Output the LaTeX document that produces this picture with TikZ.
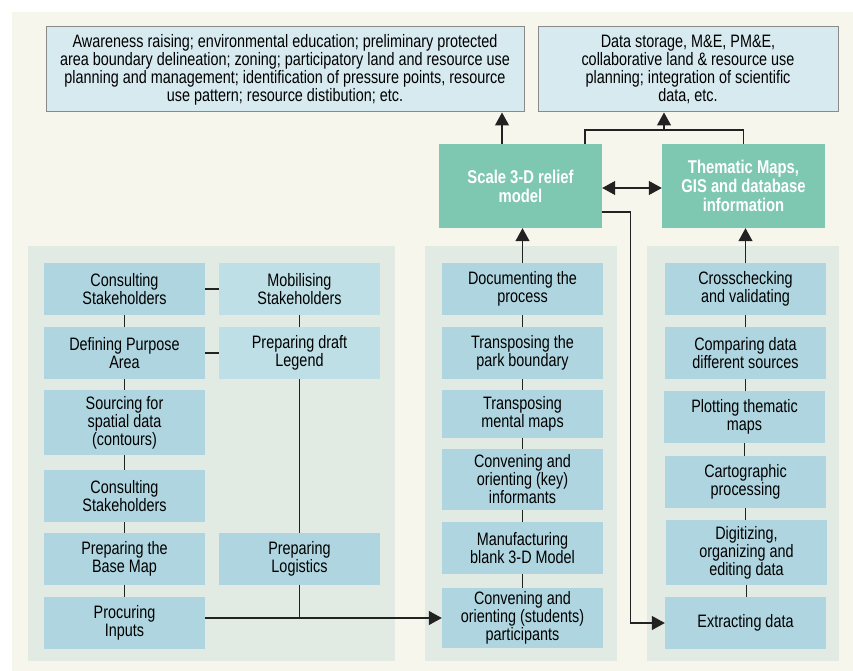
\documentclass[tikz,border=0pt]{standalone}
\usepackage{fontspec}
\setmainfont{Liberation Sans}[FakeStretch=0.80]
\usetikzlibrary{arrows.meta}

\definecolor{cream}{HTML}{F6F6EC}
\definecolor{panelbg}{HTML}{E1EBE3}
\definecolor{stepfill}{HTML}{AFD6E0}
\definecolor{steplight}{HTML}{BEDFE6}
\definecolor{outfill}{HTML}{D6EAF0}
\definecolor{outline}{HTML}{8A8A8A}
\definecolor{teal}{HTML}{7EC7B1}
\definecolor{wire}{HTML}{222222}

\tikzset{
  txt/.style={font=\fontsize{18}{18}\selectfont, align=center, text=black},
  stepbox/.style={txt, fill=stepfill, inner sep=0pt, minimum width=161pt, minimum height=52pt},
  lightbox/.style={stepbox, fill=steplight},
  outbox/.style={txt, fill=outfill, draw=outline, line width=1pt, inner sep=0pt, minimum height=85pt},
  keybox/.style={fill=teal, text=white, align=center, inner sep=0pt,
    font=\fontsize{18.5}{19}\selectfont\bfseries, minimum width=163pt, minimum height=84pt},
  panel/.style={fill=panelbg, draw=none},
  link/.style={draw=wire, line width=1.2pt},
  arr/.style={link, -{Triangle[length=13pt,width=14pt]}},
  arrs/.style={link, {Triangle[length=13pt,width=14pt]}-{Triangle[length=13pt,width=14pt]}},
}

\begin{document}
\begin{tikzpicture}[x=1pt, y=-1pt]
  \useasboundingbox (0,0) rectangle (853,671);
  \fill[white] (0,0) rectangle (853,671);
  \fill[cream] (12,12) rectangle (853,671);

  % panels
  \fill[panel] (28,246) rectangle (395,661);
  \fill[panel] (425,246) rectangle (617,661);
  \fill[panel] (647,246) rectangle (839,661);

  % outcome boxes
  \node[outbox, minimum width=478pt] (tl) at (285,69.5)
    {Awareness raising; environmental education; preliminary protected\\
     area boundary delineation; zoning; participatory land and resource use\\
     planning and management; identification of pressure points, resource\\
     use pattern; resource distibution; etc.};
  \node[outbox, minimum width=300pt] (tr) at (688,69.5)
    {Data storage, M\&E, PM\&E,\\
     collaborative land \& resource use\\
     planning; integration of scientific\\
     data, etc.};

  % key products
  \node[keybox] (scale) at (520.5,186) {Scale 3-D relief\\model};
  \node[keybox] (them) at (743.5,186) {Thematic Maps,\\GIS and database\\information};

  % left panel, first column
  \node[stepbox] (l1) at (124.5,289) {Consulting\\Stakeholders};
  \node[stepbox] (l2) at (124.5,353) {Defining Purpose\\Area};
  \node[stepbox, minimum height=65pt] (l3) at (124.5,422.5) {Sourcing for\\spatial data\\(contours)};
  \node[stepbox] (l4) at (124.5,496) {Consulting\\Stakeholders};
  \node[stepbox] (l5) at (124.5,559) {Preparing the\\Base Map};
  \node[stepbox] (l6) at (124.5,623) {Procuring\\Inputs};

  % left panel, second column
  \node[lightbox] (c1) at (299.5,289) {Mobilising\\Stakeholders};
  \node[lightbox] (c2) at (299.5,353) {Preparing draft\\Legend};
  \node[stepbox] (c3) at (299.5,559) {Preparing\\Logistics};

  % middle panel
  \node[stepbox] (m1) at (522.5,289) {Documenting the\\process};
  \node[stepbox] (m2) at (522.5,353) {Transposing the\\park boundary};
  \node[stepbox, minimum height=48pt] (m3) at (522.5,414) {Transposing\\mental maps};
  \node[stepbox, minimum height=61pt] (m4) at (522.5,479.5) {Convening and\\orienting (key)\\informants};
  \node[stepbox] (m5) at (522.5,548) {Manufacturing\\blank 3-D Model};
  \node[stepbox, minimum height=60pt] (m6) at (522.5,618) {Convening and\\orienting (students)\\participants};

  % right panel
  \node[stepbox] (r1) at (745.5,289) {Crosschecking\\and validating};
  \node[stepbox] (r2) at (745.5,353) {Comparing data\\different sources};
  \node[stepbox] (r3) at (744.5,417) {Plotting thematic\\maps};
  \node[stepbox] (r4) at (745.5,482) {Cartographic\\processing};
  \node[stepbox, minimum height=65pt] (r5) at (746.5,552.5) {Digitizing,\\organizing and\\editing data};
  \node[stepbox] (r6) at (745.5,623) {Extracting data};

  % chains inside the left panel
  \foreach \a/\b in {l1/l2, l2/l3, l3/l4, l4/l5, l5/l6, c1/c2, c2/c3}
    \draw[link] (\a.south) -- (\b.north);
  \draw[link] (l1.east) -- (c1.west);
  \draw[link] (l2.east) -- (c2.west);

  % chains in the middle and right panels
  \foreach \a/\b in {m1/m2, m2/m3, m3/m4, m4/m5, m5/m6}
    \draw[link] (\a.south) -- (\a.south |- \b.north);
  \foreach \a/\b in {r1/r2, r2/r3, r3/r4, r4/r5, r5/r6}
    \draw[link] (\a.south) -- (\a.south |- \b.north);

  % inputs and logistics feed the participants
  \draw[arr] (m6.west -| l6.east) -- (m6.west);
  \draw[link] (c3.south) -- (c3.south |- m6.west);

  % panels feed the products
  \draw[arr] (m1.north) -- (m1.north |- scale.south);
  \draw[arr] (r1.north) -- (r1.north |- them.south);

  % products feed the outcomes
  \draw[arr] ([xshift=-18.5pt]scale.north) -- ([xshift=-18.5pt]scale.north |- tl.south);
  \coordinate (join) at (664,130);
  \draw[link] ([xshift=64.5pt]scale.north) |- (join) -| (them.north);
  \draw[arr] (join) -- (join |- tr.south);

  % exchange between the products
  \draw[arrs] ([yshift=-2pt]scale.east) -- ([yshift=-2pt]them.west);

  % data extraction from the model
  \draw[arr] ([yshift=-26pt]scale.east) -- ++(28,0) |- (r6.west);
\end{tikzpicture}
\end{document}
